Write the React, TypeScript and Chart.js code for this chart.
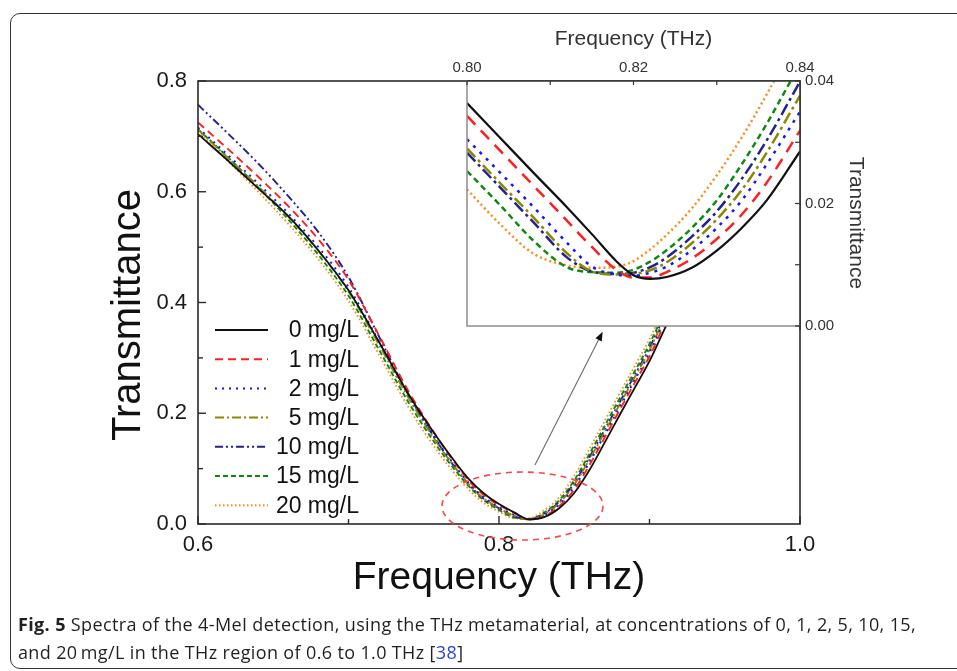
import React, { useEffect, useRef } from "react";
import { Chart, registerables } from "chart.js";

Chart.register(...registerables);

const FONT = '"Liberation Sans", Arial, Helvetica, sans-serif';

// ---------- series meta ----------
const seriesLabels = ["0 mg/L", "1 mg/L", "2 mg/L", "5 mg/L", "10 mg/L", "15 mg/L", "20 mg/L"];
const seriesColors = ["#111111", "#ff1f1f", "#1414ff", "#8a8a00", "#23238f", "#0f8a0f", "#ff8a1a"];
const mainDash = [[], [8, 5], [2, 5], [9, 3, 2, 3], [8, 3, 2, 3, 2, 3], [5, 3], [1.5, 2.5]];
const insetDash = [[], [12, 8], [3, 6], [12, 4, 3, 4], [12, 4, 3, 4], [6, 4], [2, 3]];

// ---------- main panel data (Frequency THz vs Transmittance) ----------
const mainFreq = [0.60, 0.62, 0.64, 0.66, 0.68, 0.70, 0.72, 0.74, 0.76, 0.77, 0.78, 0.79, 0.80, 0.81, 0.82, 0.83, 0.84, 0.85, 0.86, 0.87, 0.88, 0.89, 0.90, 0.91, 0.92, 0.94];
const main0 = [0.704, 0.656, 0.606, 0.556, 0.494, 0.422, 0.330, 0.234, 0.152, 0.115, 0.081, 0.055, 0.036, 0.021, 0.0084, 0.0124, 0.0285, 0.056, 0.097, 0.146, 0.196, 0.245, 0.294, 0.352, 0.408, 0.525];
const main1 = [0.725, 0.677, 0.627, 0.574, 0.514, 0.441, 0.342, 0.239, 0.152, 0.113, 0.078, 0.052, 0.034, 0.020, 0.008, 0.014, 0.032, 0.062, 0.106, 0.155, 0.205, 0.254, 0.303, 0.361, 0.417, 0.534];
const main2 = [0.716, 0.666, 0.615, 0.561, 0.500, 0.428, 0.331, 0.232, 0.146, 0.108, 0.074, 0.048, 0.0305, 0.0165, 0.0082, 0.016, 0.035, 0.067, 0.111, 0.160, 0.210, 0.259, 0.309, 0.367, 0.423, 0.540];
const main5 = [0.712, 0.661, 0.610, 0.555, 0.493, 0.420, 0.325, 0.227, 0.142, 0.105, 0.071, 0.046, 0.029, 0.0148, 0.0085, 0.0174, 0.0376, 0.071, 0.116, 0.165, 0.215, 0.264, 0.314, 0.372, 0.428, 0.545];
const main10 = [0.757, 0.705, 0.651, 0.592, 0.527, 0.446, 0.340, 0.232, 0.144, 0.105, 0.071, 0.045, 0.0283, 0.0140, 0.0087, 0.0187, 0.040, 0.074, 0.120, 0.169, 0.219, 0.268, 0.318, 0.376, 0.432, 0.550];
const main15 = [0.713, 0.662, 0.608, 0.550, 0.486, 0.412, 0.316, 0.219, 0.136, 0.100, 0.068, 0.043, 0.0253, 0.0118, 0.0092, 0.0205, 0.0428, 0.079, 0.126, 0.176, 0.226, 0.275, 0.325, 0.383, 0.439, 0.556];
const main20 = [0.709, 0.655, 0.600, 0.542, 0.478, 0.403, 0.307, 0.210, 0.128, 0.093, 0.062, 0.038, 0.0223, 0.0105, 0.0106, 0.0246, 0.048, 0.087, 0.135, 0.185, 0.235, 0.284, 0.334, 0.392, 0.448, 0.565];
const mainSeries = [main0, main1, main2, main5, main10, main15, main20];

// ---------- inset data (zoom of the dip) ----------
const insetFreq = [0.800, 0.804, 0.808, 0.812, 0.815, 0.818, 0.820, 0.822, 0.824, 0.827, 0.830, 0.833, 0.836, 0.840];
const inset0 = [0.0364, 0.0307, 0.0250, 0.0194, 0.0150, 0.0105, 0.0083, 0.0077, 0.0080, 0.0095, 0.0123, 0.0160, 0.0205, 0.0285];
const inset1 = [0.0343, 0.0286, 0.0229, 0.0172, 0.0129, 0.0091, 0.0079, 0.0079, 0.0088, 0.0110, 0.0142, 0.0182, 0.0234, 0.0319];
const inset2 = [0.0305, 0.0250, 0.0194, 0.0136, 0.0097, 0.0084, 0.0082, 0.0087, 0.0097, 0.0124, 0.0160, 0.0205, 0.0264, 0.0350];
const inset5 = [0.0290, 0.0233, 0.0177, 0.0119, 0.0089, 0.0084, 0.0085, 0.0091, 0.0104, 0.0135, 0.0174, 0.0222, 0.0283, 0.0376];
const inset10 = [0.0283, 0.0226, 0.0169, 0.0112, 0.0089, 0.0085, 0.0087, 0.0096, 0.0112, 0.0146, 0.0187, 0.0240, 0.0303, 0.0399];
const inset15 = [0.0253, 0.0197, 0.0139, 0.0096, 0.0088, 0.0087, 0.0092, 0.0105, 0.0124, 0.0160, 0.0205, 0.0264, 0.0330, 0.0428];
const inset20 = [0.0223, 0.0166, 0.0118, 0.0099, 0.0095, 0.0097, 0.0106, 0.0125, 0.0149, 0.0192, 0.0246, 0.0308, 0.0378, 0.0480];
const insetSeries = [inset0, inset1, inset2, inset5, inset10, inset15, inset20];

// ---------- tick labels ----------
const mainXTickVals = [0.6, 0.8, 1.0];
const mainXTickLabels = ["0.6", "0.8", "1.0"];
const mainYTickVals = [0, 0.2, 0.4, 0.6, 0.8];
const mainYTickLabels = ["0.0", "0.2", "0.4", "0.6", "0.8"];
const insetXTickVals = [0.8, 0.82, 0.84];
const insetXTickLabels = ["0.80", "0.82", "0.84"];
const insetYTickVals = [0, 0.02, 0.04];
const insetYTickLabels = ["0.00", "0.02", "0.04"];

// annotation (data units): dashed ellipse around the dip and arrow to the inset
const zoomEllipse = { f: 0.8156, t: 0.0325, df: 0.0535, dt: 0.0614 };
const zoomArrow = { f0: 0.8239, t0: 0.1065, f1: 0.8689, t1: 0.347 };

function labelFor(vals: number[], labels: string[]) {
  return (v: number | string) => {
    const n = Number(v);
    const i = vals.findIndex((t) => Math.abs(t - n) < 1e-6);
    return i >= 0 ? labels[i] : "";
  };
}
function isMajor(vals: number[], v: number) {
  return vals.some((t) => Math.abs(t - v) < 1e-6);
}
function toPoints(xs: number[], ys: number[]) {
  return xs.map((x, i) => ({ x, y: ys[i] }));
}

const mainDecor = {
  id: "mainDecor",
  afterDraw(chart: any) {
    const { ctx, chartArea, scales } = chart;
    const { left, right, top, bottom } = chartArea;
    const x = scales.x;
    const y = scales.y;
    ctx.save();
    ctx.strokeStyle = "#2a2a2a";
    ctx.lineWidth = 1.6;
    ctx.setLineDash([]);
    ctx.strokeRect(left, top, right - left, bottom - top);
    ctx.lineWidth = 1.4;
    x.ticks.forEach((t: any) => {
      const px = x.getPixelForValue(t.value);
      const len = isMajor(mainXTickVals, t.value) ? 8 : 5;
      ctx.beginPath();
      ctx.moveTo(px, bottom);
      ctx.lineTo(px, bottom - len);
      ctx.stroke();
    });
    y.ticks.forEach((t: any) => {
      const py = y.getPixelForValue(t.value);
      const len = isMajor(mainYTickVals, t.value) ? 8 : 5;
      ctx.beginPath();
      ctx.moveTo(left, py);
      ctx.lineTo(left + len, py);
      ctx.stroke();
    });
    // ellipse
    const cx = x.getPixelForValue(zoomEllipse.f);
    const cy = y.getPixelForValue(zoomEllipse.t);
    const rx = Math.abs(x.getPixelForValue(zoomEllipse.f + zoomEllipse.df) - cx);
    const ry = Math.abs(y.getPixelForValue(zoomEllipse.t + zoomEllipse.dt) - cy);
    ctx.setLineDash([6, 5]);
    ctx.strokeStyle = "#ff4545";
    ctx.lineWidth = 1.6;
    ctx.beginPath();
    ctx.ellipse(cx, cy, rx, ry, 0, 0, Math.PI * 2);
    ctx.stroke();
    // arrow
    const ax0 = x.getPixelForValue(zoomArrow.f0);
    const ay0 = y.getPixelForValue(zoomArrow.t0);
    const ax1 = x.getPixelForValue(zoomArrow.f1);
    const ay1 = y.getPixelForValue(zoomArrow.t1);
    const ang = Math.atan2(ay1 - ay0, ax1 - ax0);
    const hl = 9;
    const hw = 3.5;
    const bx = ax1 - hl * Math.cos(ang);
    const by = ay1 - hl * Math.sin(ang);
    ctx.setLineDash([]);
    ctx.strokeStyle = "#6a6a6a";
    ctx.lineWidth = 1.1;
    ctx.beginPath();
    ctx.moveTo(ax0, ay0);
    ctx.lineTo(bx, by);
    ctx.stroke();
    ctx.fillStyle = "#111";
    ctx.beginPath();
    ctx.moveTo(ax1, ay1);
    ctx.lineTo(bx + hw * Math.sin(ang), by - hw * Math.cos(ang));
    ctx.lineTo(bx - hw * Math.sin(ang), by + hw * Math.cos(ang));
    ctx.closePath();
    ctx.fill();
    // legend
    const ds = chart.data.datasets;
    const lx0 = left + 17;
    const lx1 = left + 70;
    const tx = left + 161;
    const ly0 = top + 249;
    const step = 29.2;
    ctx.font = `23px ${FONT}`;
    ctx.textAlign = "right";
    ctx.textBaseline = "middle";
    ds.forEach((d: any, i: number) => {
      const yy = ly0 + i * step;
      ctx.setLineDash(d.borderDash || []);
      ctx.strokeStyle = d.borderColor;
      ctx.lineWidth = 2;
      ctx.beginPath();
      ctx.moveTo(lx0, yy);
      ctx.lineTo(lx1, yy);
      ctx.stroke();
      ctx.setLineDash([]);
      ctx.fillStyle = "#111";
      ctx.fillText(d.label, tx, yy + 1);
    });
    // y title
    ctx.translate(left - 69, 315);
    ctx.rotate(-Math.PI / 2);
    ctx.font = `40px ${FONT}`;
    ctx.textAlign = "center";
    ctx.textBaseline = "middle";
    ctx.fillStyle = "#111";
    ctx.fillText("Transmittance", 0, 0);
    ctx.restore();
  },
};

const insetDecor = {
  id: "insetDecor",
  beforeDatasetsDraw(chart: any) {
    const { ctx, chartArea } = chart;
    ctx.save();
    ctx.fillStyle = "#ffffff";
    ctx.fillRect(chartArea.left, chartArea.top, chartArea.right - chartArea.left, chartArea.bottom - chartArea.top);
    ctx.restore();
  },
  afterDraw(chart: any) {
    const { ctx, chartArea, scales } = chart;
    const { left, right, top, bottom } = chartArea;
    const x = scales.x;
    const y = scales.y;
    ctx.save();
    ctx.setLineDash([]);
    ctx.strokeStyle = "#8c8c8c";
    ctx.lineWidth = 1.5;
    ctx.beginPath();
    ctx.moveTo(left, top);
    ctx.lineTo(left, bottom);
    ctx.lineTo(right, bottom);
    ctx.stroke();
    ctx.strokeStyle = "#333";
    ctx.lineWidth = 1.6;
    ctx.beginPath();
    ctx.moveTo(left, top);
    ctx.lineTo(right, top);
    ctx.lineTo(right, bottom + 4);
    ctx.stroke();
    ctx.lineWidth = 1.2;
    x.ticks.forEach((t: any) => {
      const px = x.getPixelForValue(t.value);
      ctx.beginPath();
      ctx.moveTo(px, top);
      ctx.lineTo(px, top + 4);
      ctx.stroke();
    });
    y.ticks.forEach((t: any) => {
      const py = y.getPixelForValue(t.value);
      ctx.beginPath();
      ctx.moveTo(right, py);
      ctx.lineTo(right - 5, py);
      ctx.stroke();
    });
    ctx.translate(right + 56, 223);
    ctx.rotate(Math.PI / 2);
    ctx.font = `21px ${FONT}`;
    ctx.textAlign = "center";
    ctx.textBaseline = "middle";
    ctx.fillStyle = "#333";
    ctx.fillText("Transmittance", 0, 0);
    ctx.restore();
  },
};

export default function App() {
  const mainRef = useRef<HTMLCanvasElement>(null);
  const insetRef = useRef<HTMLCanvasElement>(null);

  useEffect(() => {
    const main = new Chart(mainRef.current as HTMLCanvasElement, {
      type: "line",
      data: {
        datasets: seriesLabels.map((label, i) => ({
          label,
          data: toPoints(mainFreq, mainSeries[i]),
          borderColor: seriesColors[i],
          borderWidth: i === 0 ? 1.8 : 1.9,
          borderDash: mainDash[i],
          pointRadius: 0,
          fill: false,
          cubicInterpolationMode: "monotone" as const,
        })),
      },
      options: {
        responsive: false,
        animation: false,
        devicePixelRatio: 1,
        layout: { padding: { left: 105, top: 81, right: 157, bottom: 69 } },
        plugins: { legend: { display: false }, tooltip: { enabled: false }, title: { display: false } },
        scales: {
          x: {
            type: "linear",
            min: 0.6,
            max: 1.0,
            grid: { display: false, drawTicks: false },
            border: { display: false },
            ticks: {
              stepSize: 0.1,
              autoSkip: false,
              maxRotation: 0,
              padding: 8,
              color: "#1a1a1a",
              font: { family: FONT, size: 22 },
              callback: labelFor(mainXTickVals, mainXTickLabels),
            },
            title: { display: true, text: "Frequency (THz)", color: "#111", font: { family: FONT, size: 39 }, padding: 0 },
            afterFit: (s: any) => {
              s.height = 78;
            },
          },
          y: {
            type: "linear",
            min: 0,
            max: 0.8,
            grid: { display: false, drawTicks: false },
            border: { display: false },
            ticks: {
              stepSize: 0.1,
              autoSkip: false,
              padding: 11,
              color: "#1a1a1a",
              font: { family: FONT, size: 22 },
              callback: labelFor(mainYTickVals, mainYTickLabels),
            },
            afterFit: (s: any) => {
              s.width = 93;
            },
          },
        },
      } as any,
      plugins: [mainDecor],
    });

    const inset = new Chart(insetRef.current as HTMLCanvasElement, {
      type: "line",
      data: {
        datasets: seriesLabels.map((label, i) => ({
          label,
          data: toPoints(insetFreq, insetSeries[i]),
          borderColor: seriesColors[i],
          borderWidth: i === 0 ? 2.2 : 2.5,
          borderDash: insetDash[i],
          pointRadius: 0,
          fill: false,
          cubicInterpolationMode: "monotone" as const,
        })),
      },
      options: {
        responsive: false,
        animation: false,
        devicePixelRatio: 1,
        layout: { padding: { left: 27, top: 0, right: 0, bottom: 14 } },
        plugins: { legend: { display: false }, tooltip: { enabled: false }, title: { display: false } },
        scales: {
          x: {
            type: "linear",
            position: "top",
            min: 0.8,
            max: 0.84,
            grid: { display: false, drawTicks: false },
            border: { display: false },
            ticks: {
              stepSize: 0.01,
              autoSkip: false,
              maxRotation: 0,
              padding: 4.5,
              color: "#333",
              font: { family: FONT, size: 15 },
              callback: labelFor(insetXTickVals, insetXTickLabels),
            },
            title: {
              display: true,
              text: "Frequency (THz)",
              color: "#333",
              font: { family: FONT, size: 21 },
              padding: { top: 27, bottom: 0 },
            },
            afterFit: (s: any) => {
              s.height = 81;
            },
          },
          y: {
            type: "linear",
            position: "right",
            min: 0,
            max: 0.04,
            grid: { display: false, drawTicks: false },
            border: { display: false },
            ticks: {
              stepSize: 0.01,
              autoSkip: false,
              padding: 5,
              color: "#333",
              font: { family: FONT, size: 15 },
              callback: labelFor(insetYTickVals, insetYTickLabels),
            },
            afterFit: (s: any) => {
              s.width = 157;
            },
          },
        },
      } as any,
      plugins: [insetDecor],
    });

    return () => {
      main.destroy();
      inset.destroy();
    };
  }, []);

  return (
    <div
      style={{
        position: "absolute",
        left: 0,
        top: 0,
        width: 957,
        height: 671,
        overflow: "hidden",
        background: "#ffffff",
      }}
    >
      <div
        style={{
          position: "absolute",
          left: 10,
          top: 13,
          width: 990,
          height: 656,
          border: "1.5px solid #333",
          borderRadius: 10,
          boxSizing: "border-box",
        }}
      />
      <canvas ref={mainRef} width={957} height={671} style={{ position: "absolute", left: 0, top: 0 }} />
      <canvas ref={insetRef} width={517} height={340} style={{ position: "absolute", left: 440, top: 0 }} />
      <div
        style={{
          position: "absolute",
          left: 18,
          top: 611,
          fontFamily: '"Open Sans", "Noto Sans", sans-serif',
          fontSize: 18,
          letterSpacing: "0.36px",
          lineHeight: "27.5px",
          color: "#231f20",
          whiteSpace: "nowrap",
        }}
      >
        <span style={{ fontWeight: 700 }}>Fig. 5</span> Spectra of the 4-MeI detection, using the THz metamaterial, at
        concentrations of 0, 1, 2, 5, 10, 15,
        <br />
        and 20{"\u2009"}mg/L in the THz region of 0.6 to 1.0 THz [<span style={{ color: "#2a45d6" }}>38</span>]
      </div>
    </div>
  );
}
